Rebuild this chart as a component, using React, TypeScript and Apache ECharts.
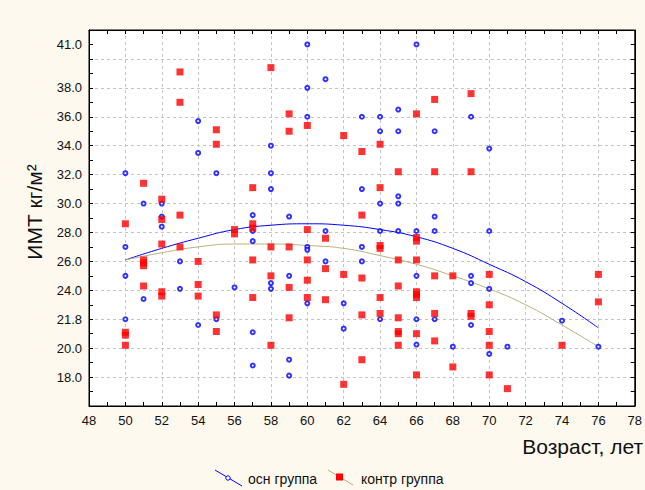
import React, { useEffect, useRef } from 'react';
import * as echarts from 'echarts';

// ---- data ----
const seriesNames = ['осн группа', 'контр группа'];

// осн группа: [возраст, ИМТ]
const osnGroup: [number, number][] = [
  [50, 32.1], [50, 27.0], [50, 25.0], [50, 22.0],
  [51, 30.0], [51, 23.4],
  [52, 30.0], [52, 29.1], [52, 28.4],
  [53, 26.0], [53, 24.1],
  [54, 35.7], [54, 33.5], [54, 21.6],
  [55, 32.1], [55, 22.0],
  [56, 24.2],
  [57, 29.2], [57, 28.1], [57, 27.4], [57, 21.1], [57, 18.8],
  [58, 34.0], [58, 32.1], [58, 31.0], [58, 24.5], [58, 24.1],
  [59, 29.1], [59, 25.0], [59, 19.2], [59, 18.1],
  [60, 41.0], [60, 38.0], [60, 36.0], [60, 27.0], [60, 26.8], [60, 23.1],
  [61, 38.6], [61, 28.1], [61, 26.0],
  [62, 23.1], [62, 21.35],
  [63, 36.0], [63, 31.0], [63, 27.0], [63, 26.0],
  [64, 36.0], [64, 35.0], [64, 30.0], [64, 28.1], [64, 22.0],
  [65, 36.5], [65, 35.0], [65, 30.5], [65, 30.0], [65, 28.1],
  [66, 41.0], [66, 28.1], [66, 25.0], [66, 22.0], [66, 20.25],
  [67, 35.0], [67, 29.1], [67, 28.1], [67, 22.0],
  [68, 20.1],
  [69, 36.0], [69, 25.0], [69, 24.5], [69, 21.6],
  [70, 33.8], [70, 28.1], [70, 24.1], [70, 19.6],
  [71, 20.1], [74, 21.9], [76, 20.1],
];

// контр группа: [возраст, ИМТ]
const kontrGroup: [number, number][] = [
  [50, 28.6], [50, 21.1], [50, 20.9], [50, 20.2],
  [51, 31.4], [51, 26.1], [51, 25.9], [51, 25.7], [51, 24.3],
  [52, 30.3], [52, 28.9], [52, 27.2], [52, 23.9], [52, 23.6],
  [53, 39.1], [53, 37.0], [53, 29.2], [53, 27.0],
  [54, 26.0], [54, 24.4], [54, 23.6],
  [55, 35.1], [55, 34.1], [55, 22.3], [55, 21.15],
  [56, 28.2], [56, 27.9],
  [57, 31.1], [57, 28.6], [57, 28.3], [57, 26.1], [57, 23.5],
  [58, 39.4], [58, 27.0], [58, 25.0], [58, 20.2],
  [59, 36.2], [59, 35.0], [59, 27.0], [59, 24.2], [59, 22.1],
  [60, 35.4], [60, 28.2], [60, 26.1], [60, 24.7], [60, 23.5],
  [61, 27.6], [61, 25.5], [61, 23.35],
  [62, 34.7], [62, 25.1], [62, 17.5],
  [63, 33.6], [63, 29.2], [63, 24.85], [63, 22.3], [63, 19.2],
  [64, 34.1], [64, 31.1], [64, 27.1], [64, 26.9], [64, 23.5], [64, 22.4],
  [65, 32.2], [65, 26.1], [65, 24.3], [65, 22.1], [65, 21.15], [65, 21.0], [65, 20.2],
  [66, 36.2], [66, 27.65], [66, 27.4], [66, 26.1], [66, 23.9], [66, 23.7], [66, 23.5], [66, 21.0], [66, 18.15],
  [67, 37.2], [67, 32.2], [67, 25.0], [67, 22.4], [67, 20.5],
  [68, 25.0], [68, 18.7],
  [69, 37.6], [69, 32.2], [69, 22.4], [69, 22.2],
  [70, 25.1], [70, 23.0], [70, 21.15], [70, 20.2], [70, 18.15],
  [71, 17.2], [74, 20.2], [76, 25.1], [76, 23.2],
];

// fitted curves
const fitAges = [50, 52, 54, 56, 58, 60, 62, 64, 66, 68, 70, 72, 74, 76];
const osnFit = [26.1, 26.9, 27.6, 28.2, 28.5, 28.6, 28.5, 28.2, 27.7, 26.9, 25.8, 24.6, 23.1, 21.4];
const kontrFit = [26.1, 26.6, 27.0, 27.2, 27.2, 27.1, 26.9, 26.4, 25.8, 25.0, 24.1, 23.0, 21.6, 20.1];

// axis labels
const yTickValues = [18, 20, 22, 24, 26, 28, 30, 32, 34, 36, 38, 41];
const yTickLabels = ['18.0', '20.0', '21.8', '24.0', '26.0', '28.0', '30.0', '32.0', '34.0', '36.0', '38.0', '41.0'];
const xAxisTitle = 'Возраст, лет';
const yAxisTitle = 'ИМТ кг/м²';

const FONT = '"Liberation Sans", Arial, sans-serif';
const BLUE = '#0000FF';
const RED = '#FF0000';
const OLIVE = '#B8B27A';
const GRIDLINE = '#C4C4C4';

export default function App() {
  const ref = useRef<HTMLDivElement>(null);

  useEffect(() => {
    if (!ref.current) return;
    const chart = echarts.init(ref.current, null, { renderer: 'svg' });

    const tickCommon = { show: true, inside: true, length: 4, lineStyle: { color: '#000', width: 1 } };
    const axisLineCommon = { show: true, lineStyle: { color: '#000', width: 1 } };
    const dashed = { show: true, lineStyle: { color: GRIDLINE, type: [3, 3] as any, width: 1 } };

    chart.setOption({
      animation: false,
      backgroundColor: '#FDF9EF',
      grid: {
        left: 89, top: 30, width: 555, height: 376,
        show: true, backgroundColor: '#FFFFFF', borderColor: '#000', borderWidth: 1,
      },
      xAxis: [
        {
          type: 'value', position: 'bottom', min: 48, max: 78, interval: 2,
          axisLine: axisLineCommon, axisTick: tickCommon,
          minorTick: { show: true, splitNumber: 2, length: 4, lineStyle: { color: '#000' } },
          splitLine: dashed,
          axisLabel: { fontFamily: FONT, fontSize: 13, color: '#111', margin: 8 },
        },
        {
          type: 'value', position: 'top', min: 48, max: 78, interval: 2,
          axisLine: axisLineCommon, axisTick: tickCommon,
          minorTick: { show: true, splitNumber: 2, length: 4, lineStyle: { color: '#000' } },
          splitLine: { show: false }, axisLabel: { show: false },
        },
      ],
      yAxis: [
        {
          type: 'value', position: 'left', min: 16, max: 42, interval: 1,
          axisLine: axisLineCommon, axisTick: tickCommon,
          splitLine: { show: false },
          axisLabel: {
            fontFamily: FONT, fontSize: 13, color: '#111', margin: 7,
            formatter: (v: number) => {
              const i = yTickValues.findIndex((t) => Math.abs(t - v) < 1e-6);
              return i >= 0 ? yTickLabels[i] : '';
            },
          },
        },
        {
          type: 'value', position: 'right', min: 16, max: 42, interval: 2,
          axisLine: axisLineCommon, axisTick: tickCommon,
          minorTick: { show: true, splitNumber: 2, length: 4, lineStyle: { color: '#000' } },
          splitLine: dashed, axisLabel: { show: false },
        },
      ],
      series: [
        {
          name: seriesNames[0] + ' fit', type: 'line', xAxisIndex: 0, yAxisIndex: 0,
          data: fitAges.map((a, i) => [a, osnFit[i]]), smooth: true, showSymbol: false,
          lineStyle: { color: BLUE, width: 1 }, z: 2, silent: true,
        },
        {
          name: seriesNames[1] + ' fit', type: 'line', xAxisIndex: 0, yAxisIndex: 0,
          data: fitAges.map((a, i) => [a, kontrFit[i]]), smooth: true, showSymbol: false,
          lineStyle: { color: OLIVE, width: 1 }, z: 2, silent: true,
        },
        {
          name: seriesNames[0], type: 'scatter', xAxisIndex: 0, yAxisIndex: 0,
          data: osnGroup, symbol: 'emptyCircle', symbolSize: 4,
          itemStyle: { color: BLUE, borderColor: BLUE, borderWidth: 1 }, z: 3,
        },
        {
          name: seriesNames[1], type: 'scatter', xAxisIndex: 0, yAxisIndex: 0,
          data: kontrGroup, symbol: 'rect', symbolSize: 7,
          itemStyle: { color: RED }, z: 4,
        },
      ],
      graphic: [
        {
          type: 'text', x: 643, y: 446,
          style: { text: xAxisTitle, font: `21px ${FONT}`, fill: '#111', align: 'right', verticalAlign: 'middle' },
        },
        {
          type: 'text', x: 34, y: 212, rotation: Math.PI / 2,
          style: { text: yAxisTitle, font: `21px ${FONT}`, fill: '#111', align: 'center', verticalAlign: 'middle' },
        },
        // legend
        { type: 'line', shape: { x1: 215, y1: 470, x2: 242, y2: 486 }, style: { stroke: BLUE, lineWidth: 1 } },
        { type: 'circle', shape: { cx: 228, cy: 478, r: 2.2 }, style: { stroke: BLUE, fill: '#fff', lineWidth: 1 } },
        {
          type: 'text', x: 248, y: 479,
          style: { text: seriesNames[0], font: `14px ${FONT}`, fill: '#111', align: 'left', verticalAlign: 'middle' },
        },
        { type: 'line', shape: { x1: 328, y1: 470, x2: 353, y2: 485 }, style: { stroke: OLIVE, lineWidth: 1 } },
        { type: 'rect', shape: { x: 336, y: 473.5, width: 7, height: 7 }, style: { fill: RED } },
        {
          type: 'text', x: 361, y: 479,
          style: { text: seriesNames[1], font: `14px ${FONT}`, fill: '#111', align: 'left', verticalAlign: 'middle' },
        },
      ],
    });

    return () => chart.dispose();
  }, []);

  return (
    <div
      ref={ref}
      style={{ position: 'fixed', left: 0, top: 0, width: 645, height: 490 }}
    />
  );
}
